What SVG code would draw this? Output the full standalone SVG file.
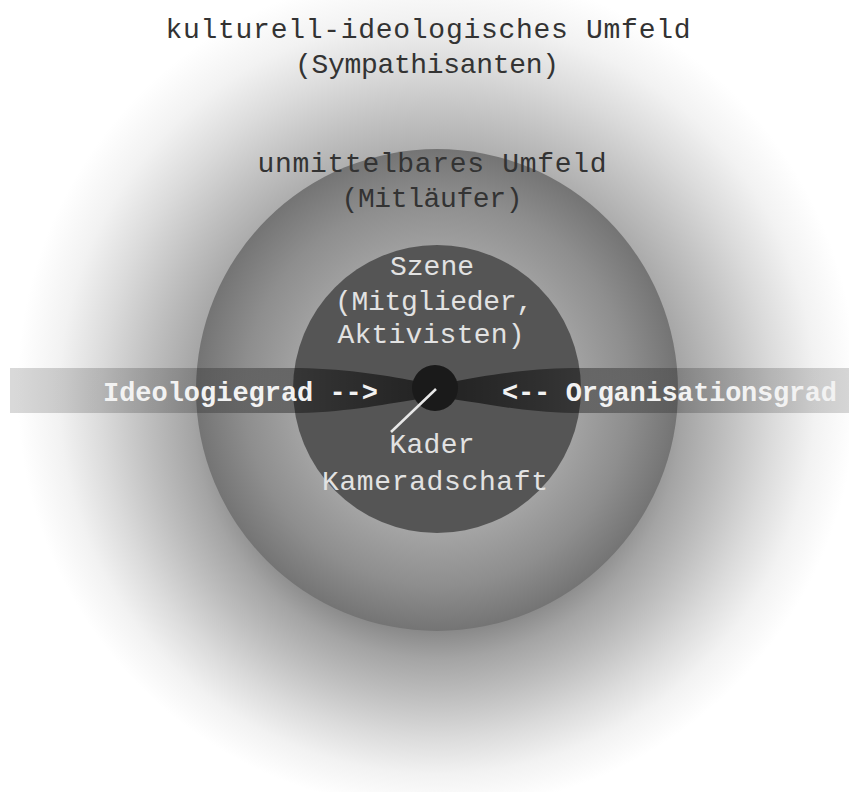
<svg xmlns="http://www.w3.org/2000/svg" width="849" height="792" viewBox="0 0 849 792">
<style>
text{font-family:"Liberation Mono","DejaVu Sans Mono",monospace;font-size:28px;text-anchor:middle}
.dark{fill:#333333}
.light{fill:#e2e2e2}
.band{font-weight:bold;fill:#f2f2f2;font-size:27px;text-anchor:start}
</style>
<defs>
<radialGradient id="gOuter" gradientUnits="userSpaceOnUse" cx="437" cy="390" r="420" fx="437" fy="450">
<stop offset="0.45" stop-color="#7e7e7e"/>
<stop offset="0.5" stop-color="#888888"/>
<stop offset="0.58" stop-color="#a4a4a4"/>
<stop offset="0.69" stop-color="#bfbfbf"/>
<stop offset="0.8" stop-color="#dbdbdb"/>
<stop offset="0.9" stop-color="#f2f2f2"/>
<stop offset="1" stop-color="#ffffff"/>
</radialGradient>
<radialGradient id="gMiddle" gradientUnits="userSpaceOnUse" cx="437" cy="390" r="241" fx="437" fy="405">
<stop offset="0.55" stop-color="#a6a6a6"/>
<stop offset="0.8" stop-color="#8e8e8e"/>
<stop offset="1" stop-color="#747474"/>
</radialGradient>
<linearGradient id="gBand" gradientUnits="userSpaceOnUse" x1="10" y1="0" x2="864" y2="0">
<stop offset="0" stop-color="#000" stop-opacity="0.15"/>
<stop offset="0.21" stop-color="#000" stop-opacity="0.2"/>
<stop offset="0.328" stop-color="#000" stop-opacity="0.36"/>
<stop offset="0.375" stop-color="#000" stop-opacity="0.44"/>
<stop offset="0.457" stop-color="#000" stop-opacity="0.55"/>
<stop offset="0.5" stop-color="#000" stop-opacity="0.6"/>
<stop offset="0.543" stop-color="#000" stop-opacity="0.55"/>
<stop offset="0.625" stop-color="#000" stop-opacity="0.44"/>
<stop offset="0.672" stop-color="#000" stop-opacity="0.36"/>
<stop offset="0.79" stop-color="#000" stop-opacity="0.2"/>
<stop offset="1" stop-color="#000" stop-opacity="0.15"/>
</linearGradient>
</defs>
<rect width="849" height="792" fill="#ffffff"/>
<g id="outer">
<circle cx="437" cy="390" r="420" fill="url(#gOuter)"/>
<text class="dark" x="428" y="38" textLength="525">kulturell-ideologisches Umfeld</text>
<text class="dark" x="427" y="73" textLength="264">(Sympathisanten)</text>
</g>
<g id="middle">
<circle cx="437" cy="390" r="241" fill="url(#gMiddle)"/>
<text class="dark" x="432" y="172" textLength="349">unmittelbares Umfeld</text>
<text class="dark" x="432" y="207" textLength="181">(Mitläufer)</text>
</g>
<g id="inner">
<circle cx="437" cy="389" r="144" fill="#555555"/>
<text class="light" x="432" y="275" textLength="84">Szene</text>
<text class="light" x="434" y="310" textLength="198">(Mitglieder,</text>
<text class="light" x="431" y="343" textLength="187">Aktivisten)</text>
<text class="light" x="432" y="453" textLength="85">Kader</text>
<text class="light" x="435" y="490" textLength="226">Kameradschaft</text>
</g>
<g id="axis">
<path d="M10,368 H300 C350,369 390,376 420,382 L452,382 C482,376 522,369 572,368 H849 V413 H572 C522,412 482,403 452,399 L420,399 C390,403 350,412 300,413 H10 Z" fill="url(#gBand)"/>
<text class="band" x="103" y="401" textLength="275">Ideologiegrad --&gt;</text>
<text class="band" x="502" y="401" textLength="335">&lt;-- Organisationsgrad</text>
</g>
<g id="core">
<circle cx="435" cy="388" r="23" fill="#1a1a1a"/>
</g>
<g id="connectors">
<line x1="436" y1="389" x2="391" y2="432" stroke="#e8e8e8" stroke-width="2.5"/>
</g>
</svg>
